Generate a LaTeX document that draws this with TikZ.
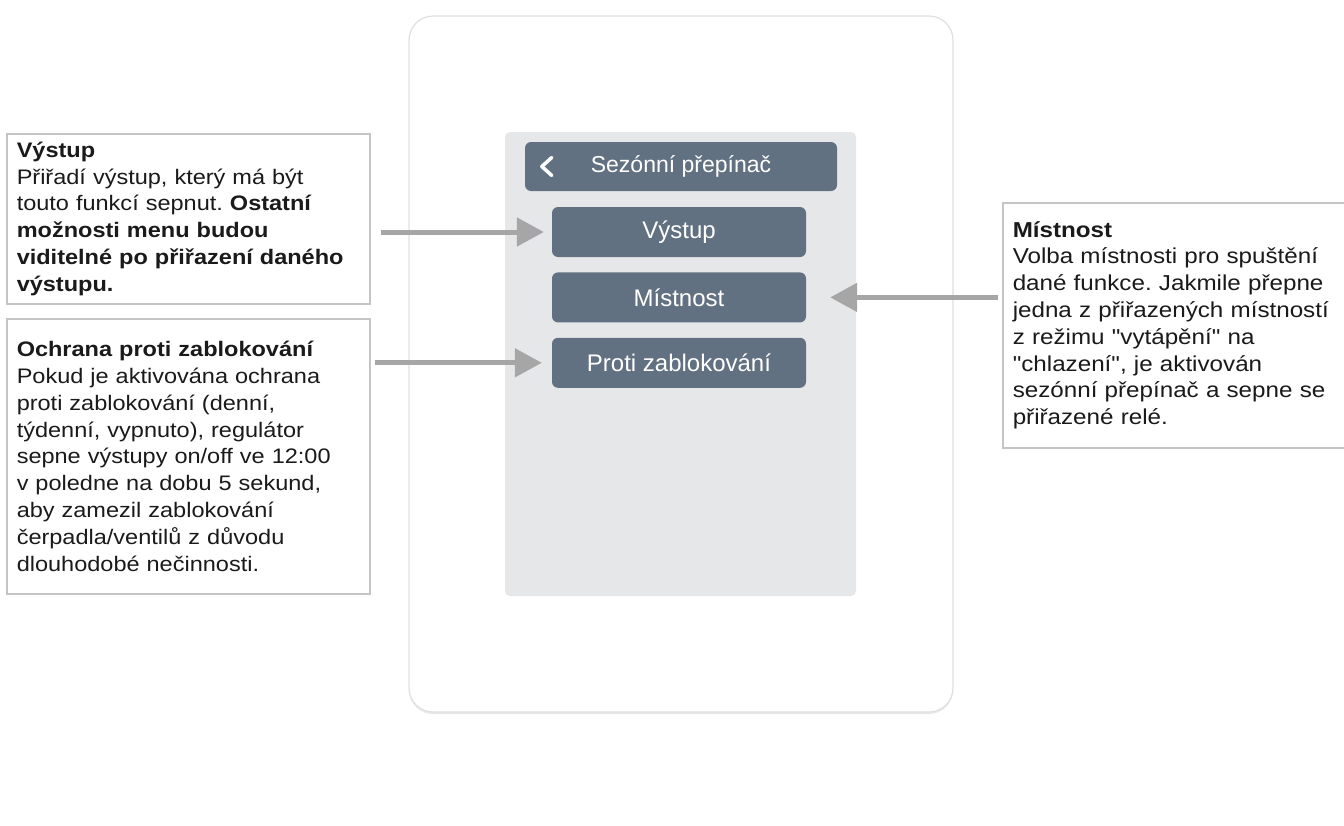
\documentclass[tikz,border=0pt]{standalone}
\usepackage{fontspec}
\setmainfont{Liberation Sans}
\newfontfamily\notefont[FakeStretch=1.12]{Liberation Sans}
\usepackage{tikz}
\usetikzlibrary{positioning, arrows.meta, shadows}
\frenchspacing

\definecolor{panelgray}{HTML}{E6E7E9}
\definecolor{btnslate}{HTML}{627182}
\definecolor{notegray}{HTML}{C4C4C4}
\definecolor{arrowgray}{HTML}{A6A6A6}
\definecolor{textdark}{HTML}{1A1A1A}

\begin{document}
\begin{tikzpicture}[
        x=1pt, y=-1pt,
        % Device body with soft shadow
        device/.style={
            draw=black!12, line width=1.2pt,
            fill=white, rounded corners=24pt,
            drop shadow={opacity=0.18, shadow xshift=0pt, shadow yshift=-2pt}
        },
        % Display area
        screen/.style={fill=panelgray, rounded corners=5pt},
        % Menu title bar
        header/.style={
            rectangle, fill=btnslate, rounded corners=6pt,
            minimum width=312pt, minimum height=49pt,
            text=white, font=\fontsize{23}{27}\selectfont
        },
        % Menu entries
        button/.style={
            rectangle, fill=btnslate, rounded corners=6pt,
            minimum width=254pt, minimum height=50pt,
            text=white, font=\fontsize{24}{28}\selectfont
        },
        % Explanation boxes
        note/.style={
            rectangle, draw=notegray, line width=1.5pt, fill=white,
            inner xsep=10pt, inner ysep=0pt,
            align=left, anchor=north west, text=textdark
        },
        % Grey pointer arrows
        pointer/.style={
            draw=arrowgray, line width=5pt,
            -{Triangle[length=27pt, width=28pt]}
        },
        chevron/.style={draw=white, line width=3.5pt, line cap=round, line join=round}
    ]

        \useasboundingbox (0,0) rectangle (1344,825);

        % Device and screen
        \path[device] (409,16) rectangle (953,712);
        \path[screen] (505,132) rectangle (856,596);

        % Menu
        \node[header] (header) at (681,166.5) {Sezónní přepínač};
        \draw[chevron] ([xshift=27pt, yshift=9pt]header.west) -- ([xshift=17pt]header.west)
                       -- ([xshift=27pt, yshift=-9pt]header.west);
        \node[button] (btnvystup) at (679,232) {Výstup};
        \node[button, below=15pt of btnvystup] (btnmistnost) {Místnost};
        \node[button, below=15pt of btnmistnost] (btnproti) {Proti zablokování};

        % Notes
        \node[note, text width=343pt, minimum height=170pt,
              font=\notefont\fontsize{21}{26.8}\selectfont] (notevystup) at (6,133)
            {\textbf{Výstup}\\Přiřadí výstup, který má být\\touto funkcí sepnut. \textbf{Ostatní}\\
             \textbf{možnosti menu budou}\\\textbf{viditelné po přiřazení daného}\\\textbf{výstupu.}};
        \node[note, text width=343pt, minimum height=275pt,
              font=\notefont\fontsize{21}{26.8}\selectfont] (noteochrana) at (6,318)
            {\textbf{Ochrana proti zablokování}\\Pokud je aktivována ochrana\\proti zablokování (denní,\\
             týdenní, vypnuto), regulátor\\sepne výstupy on/off ve 12:00\\v poledne na dobu 5 sekund,\\
             aby zamezil zablokování\\čerpadla/ventilů z důvodu\\dlouhodobé nečinnosti.};
        \node[note, text width=340pt, minimum height=245pt,
              font=\notefont\fontsize{21.6}{26.8}\selectfont] (notemistnost) at (1002,202)
            {\textbf{Místnost}\\Volba místnosti pro spuštění\\dané funkce. Jakmile přepne\\
             jedna z přiřazených místností\\z režimu "vytápění" na\\"chlazení", je aktivován\\
             sezónní přepínač a sepne se\\přiřazené relé.};

        % Arrows
        \draw[pointer, shorten <=10pt, shorten >=8pt] (notevystup.east |- btnvystup.west) -- (btnvystup.west);
        \draw[pointer, shorten <=4pt, shorten >=10pt] (noteochrana.east |- btnproti.west) -- (btnproti.west);
        \draw[pointer, shorten <=4pt, shorten >=24pt] (notemistnost.west |- btnmistnost.east) -- (btnmistnost.east);

    \end{tikzpicture}
\end{document}
